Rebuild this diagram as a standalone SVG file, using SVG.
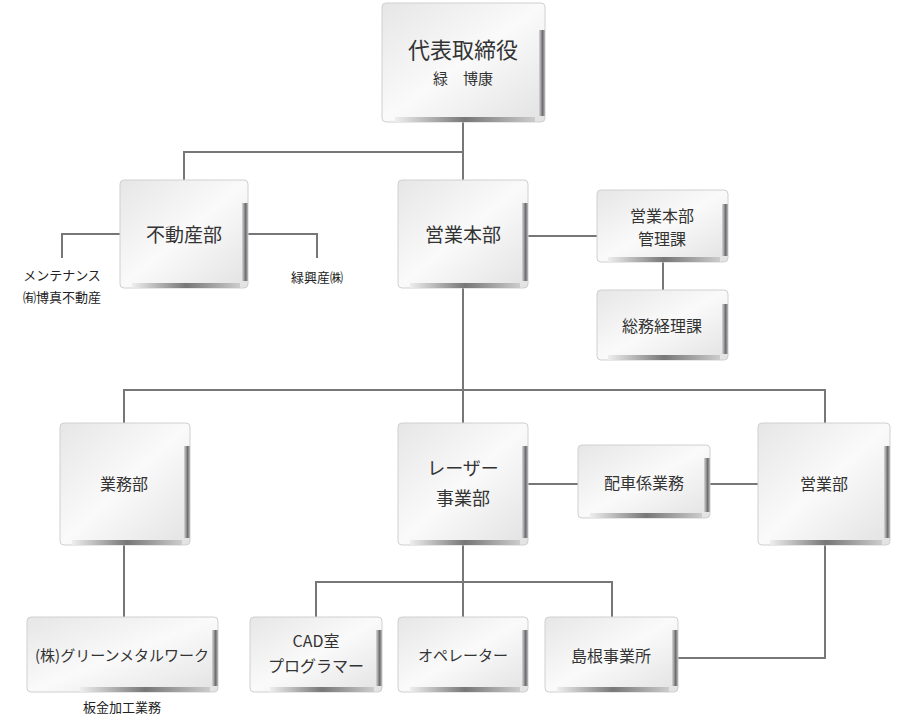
<svg xmlns="http://www.w3.org/2000/svg" width="910" height="716" viewBox="0 0 910 716">
<defs>
<linearGradient id="g" x1="0" y1="0" x2="1" y2="1"><stop offset="0" stop-color="#e6e6e6"/><stop offset="0.5" stop-color="#fafafa"/><stop offset="1" stop-color="#e2e2e2"/></linearGradient>
<linearGradient id="e" x1="0" y1="0" x2="1" y2="0"><stop offset="0" stop-color="#d8d8d8"/><stop offset="0.6" stop-color="#6e6a70"/><stop offset="1" stop-color="#bbb"/></linearGradient>
<linearGradient id="b" x1="0" y1="0" x2="1" y2="0"><stop offset="0" stop-color="#eee"/><stop offset="0.5" stop-color="#777"/><stop offset="1" stop-color="#ccc"/></linearGradient>
</defs>
<style>
.bx{fill:url(#g);stroke:#d0d0d0;stroke-width:1}
.t{font-family:"Noto Sans CJK JP",sans-serif;fill:#333;text-anchor:middle}
.s{font-family:"Noto Sans CJK JP",sans-serif;fill:#222;text-anchor:middle;font-size:13px}
#c path{fill:none;stroke:#777;stroke-width:2}
</style>
<g id="c">
<path d="M463 122V180M184 180V152H463M120 234H62V258M248 234H317V258M528 236H597M663 262V290M463 288V423M124 423V390H825V423M528 484H578M710 484H758M124 545V617M463 545V617M316 617V582H612V617M825 545V658H678"/>
</g>
<g id="n1"><rect class="bx" x="382" y="3" width="163" height="119" rx="4"/><rect x="539" y="30" width="6" height="86" fill="url(#e)"/><rect x="395" y="117" width="140" height="5" fill="url(#b)"/><text class="t" x="463" y="58" font-size="22">代表取締役</text><text class="t" x="463" y="84" font-size="15">緑　博康</text></g>
<g id="n2"><rect class="bx" x="120" y="180" width="128" height="108" rx="4"/><rect x="242" y="203" width="6" height="78" fill="url(#e)"/><rect x="132" y="283" width="108" height="5" fill="url(#b)"/><text class="t" x="184" y="242" font-size="19">不動産部</text></g>
<g id="n3"><rect class="bx" x="398" y="180" width="130" height="108" rx="4"/><rect x="522" y="203" width="6" height="78" fill="url(#e)"/><rect x="410" y="283" width="110" height="5" fill="url(#b)"/><text class="t" x="463" y="242" font-size="19">営業本部</text></g>
<g id="n4"><rect class="bx" x="597" y="190" width="131" height="72" rx="4"/><rect x="722" y="204" width="6" height="52" fill="url(#e)"/><rect x="608" y="257" width="112" height="5" fill="url(#b)"/><text class="t" x="662" y="222" font-size="16">営業本部</text><text class="t" x="662" y="245" font-size="16">管理課</text></g>
<g id="n5"><rect class="bx" x="597" y="290" width="131" height="70" rx="4"/><rect x="722" y="304" width="6" height="50" fill="url(#e)"/><rect x="608" y="355" width="112" height="5" fill="url(#b)"/><text class="t" x="662" y="332" font-size="16">総務経理課</text></g>
<g id="n6"><rect class="bx" x="60" y="423" width="130" height="122" rx="4"/><rect x="184" y="446" width="6" height="92" fill="url(#e)"/><rect x="72" y="540" width="110" height="5" fill="url(#b)"/><text class="t" x="124" y="490" font-size="16">業務部</text></g>
<g id="n7"><rect class="bx" x="398" y="423" width="130" height="122" rx="4"/><rect x="522" y="446" width="6" height="92" fill="url(#e)"/><rect x="410" y="540" width="110" height="5" fill="url(#b)"/><text class="t" x="463" y="475" font-size="18">レーザー</text><text class="t" x="463" y="505" font-size="18">事業部</text></g>
<g id="n8"><rect class="bx" x="578" y="445" width="132" height="73" rx="4"/><rect x="704" y="458" width="6" height="54" fill="url(#e)"/><rect x="590" y="513" width="112" height="5" fill="url(#b)"/><text class="t" x="644" y="489" font-size="16">配車係業務</text></g>
<g id="n9"><rect class="bx" x="758" y="423" width="132" height="122" rx="4"/><rect x="884" y="446" width="6" height="92" fill="url(#e)"/><rect x="770" y="540" width="112" height="5" fill="url(#b)"/><text class="t" x="824" y="490" font-size="16">営業部</text></g>
<g id="n10"><rect class="bx" x="27" y="617" width="191" height="75" rx="4"/><rect x="212" y="630" width="6" height="56" fill="url(#e)"/><rect x="80" y="687" width="130" height="5" fill="url(#b)"/><text class="t" x="122" y="661" font-size="15">(株)グリーンメタルワーク</text></g>
<g id="n11"><rect class="bx" x="250" y="617" width="132" height="75" rx="4"/><rect x="376" y="630" width="6" height="56" fill="url(#e)"/><rect x="270" y="687" width="104" height="5" fill="url(#b)"/><text class="t" x="316" y="647" font-size="16">CAD室</text><text class="t" x="316" y="672" font-size="16">プログラマー</text></g>
<g id="n12"><rect class="bx" x="398" y="617" width="130" height="75" rx="4"/><rect x="522" y="630" width="6" height="56" fill="url(#e)"/><rect x="410" y="687" width="110" height="5" fill="url(#b)"/><text class="t" x="463" y="661" font-size="15">オペレーター</text></g>
<g id="n13"><rect class="bx" x="545" y="617" width="133" height="75" rx="4"/><rect x="672" y="630" width="6" height="56" fill="url(#e)"/><rect x="557" y="687" width="112" height="5" fill="url(#b)"/><text class="t" x="611" y="662" font-size="16">島根事業所</text></g>
<text class="s" x="62" y="280">メンテナンス</text>
<text class="s" x="62" y="302">㈲博真不動産</text>
<text class="s" x="317" y="282">緑興産㈱</text>
<text class="s" x="122" y="712">板金加工業務</text>
</svg>
